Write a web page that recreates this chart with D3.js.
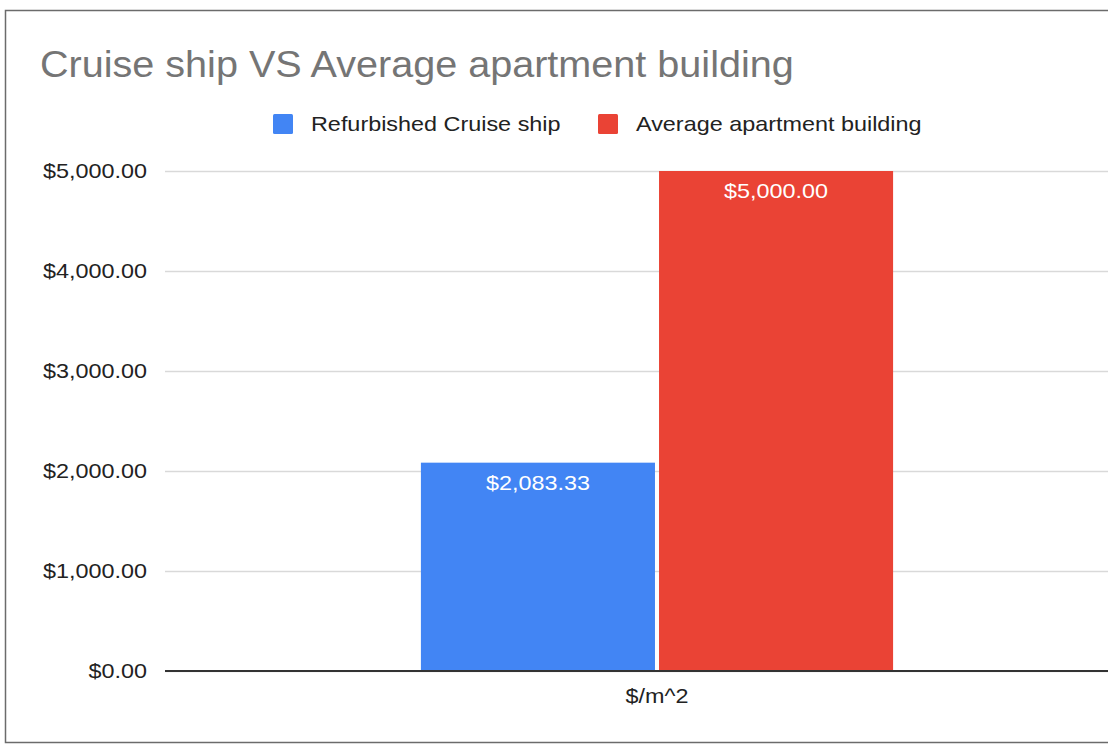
<!DOCTYPE html>
<html>
<head>
<meta charset="utf-8">
<script src="https://cdn.jsdelivr.net/npm/d3@7"></script>
<style>
  html, body { margin: 0; padding: 0; background: #fff; }
  svg { display: block; font-family: Arial, "Liberation Sans", sans-serif; }
</style>
</head>
<body>
<svg id="chart" width="1108" height="746"></svg>
<script>
const categories = ["$/m^2"];
const seriesNames = ["Refurbished Cruise ship", "Average apartment building"];
const cruiseShip = [2083.33];
const apartmentBuilding = [5000];
const yTicks = [0, 1000, 2000, 3000, 4000, 5000];
const colors = ["#4285F4", "#EA4335"];

const rows = categories.map((c, i) => ({
  category: c,
  values: [cruiseShip[i], apartmentBuilding[i]]
}));

const svg = d3.select("#chart");
const W = 1108;
const FONT = "Arial, 'Liberation Sans', sans-serif";
const STRETCH = 1.17;   // wide horizontal text proportion used throughout

// stretch a text node horizontally around its anchor point
function widen(sel, k) {
  sel.each(function () {
    const t = d3.select(this);
    const x = +t.attr("x") || 0;
    t.attr("transform", `translate(${x},0) scale(${k},1) translate(${-x},0)`);
  });
}

// outer frame
svg.append("rect")
  .attr("x", 5.5).attr("y", 10.5)
  .attr("width", W + 20).attr("height", 732)
  .attr("fill", "#fff").attr("stroke", "#6b6b6b").attr("stroke-width", 1.5);

const plot = { left: 165, right: 1149, top: 171, bottom: 671 };

const x0 = d3.scaleBand().domain(categories)
  .range([plot.left, plot.right]).paddingInner(0).paddingOuter(0.542);
const x1 = d3.scaleBand().domain(seriesNames)
  .range([0, x0.bandwidth()]).paddingInner(0.017);
const y = d3.scaleLinear().domain([0, 5000]).range([plot.bottom, plot.top]);

const fmt = v => "$" + d3.format(",.2f")(v);

// gridlines + tick labels
const yAxis = d3.axisLeft(y).tickValues(yTicks).tickFormat(fmt)
  .tickSize(-(W - plot.left)).tickPadding(18);
const gy = svg.append("g").attr("transform", `translate(${plot.left},0)`).call(yAxis);
gy.select(".domain").remove();
gy.selectAll(".tick line").attr("stroke", "#d9d9d9").attr("stroke-width", 1.3);
gy.selectAll(".tick text").attr("fill", "#222").attr("font-size", 20)
  .attr("font-family", FONT).call(widen, STRETCH);

// bars
const groups = svg.append("g").selectAll("g").data(rows).join("g")
  .attr("transform", d => `translate(${x0(d.category)},0)`);

groups.selectAll("rect").data(d => d.values.map((v, i) => ({ v, i })))
  .join("rect")
  .attr("x", d => x1(seriesNames[d.i]))
  .attr("y", d => y(d.v))
  .attr("width", x1.bandwidth())
  .attr("height", d => y(0) - y(d.v))
  .attr("fill", d => colors[d.i]);

groups.selectAll("text.val").data(d => d.values.map((v, i) => ({ v, i })))
  .join("text").attr("class", "val")
  .attr("x", d => x1(seriesNames[d.i]) + x1.bandwidth() / 2)
  .attr("y", d => y(d.v) + 27)
  .attr("text-anchor", "middle")
  .attr("fill", "#fff").attr("font-size", 20)
  .text(d => fmt(d.v))
  .call(widen, STRETCH);

// baseline
svg.append("line")
  .attr("x1", plot.left).attr("x2", W)
  .attr("y1", y(0)).attr("y2", y(0))
  .attr("stroke", "#333").attr("stroke-width", 2);

// category label
const xAxis = d3.axisBottom(x0).tickSize(0).tickPadding(18);
const gx = svg.append("g").attr("transform", `translate(0,${plot.bottom})`).call(xAxis);
gx.select(".domain").remove();
gx.selectAll("text").attr("fill", "#222").attr("font-size", 20)
  .attr("font-family", FONT).call(widen, STRETCH);

// title
svg.append("text").attr("x", 40).attr("y", 77)
  .attr("fill", "#757575").attr("font-size", 37)
  .text("Cruise ship VS Average apartment building")
  .call(widen, 1.07);

// legend
const legendX = [273, 598];
const lg = svg.append("g").selectAll("g").data(seriesNames).join("g")
  .attr("transform", (d, i) => `translate(${legendX[i]},114)`);
lg.append("rect").attr("width", 20).attr("height", 20).attr("rx", 1.5)
  .attr("fill", (d, i) => colors[i]);
lg.append("text").attr("x", 38).attr("y", 17)
  .attr("fill", "#222").attr("font-size", 20).text(d => d)
  .call(widen, STRETCH);
</script>
</body>
</html>
